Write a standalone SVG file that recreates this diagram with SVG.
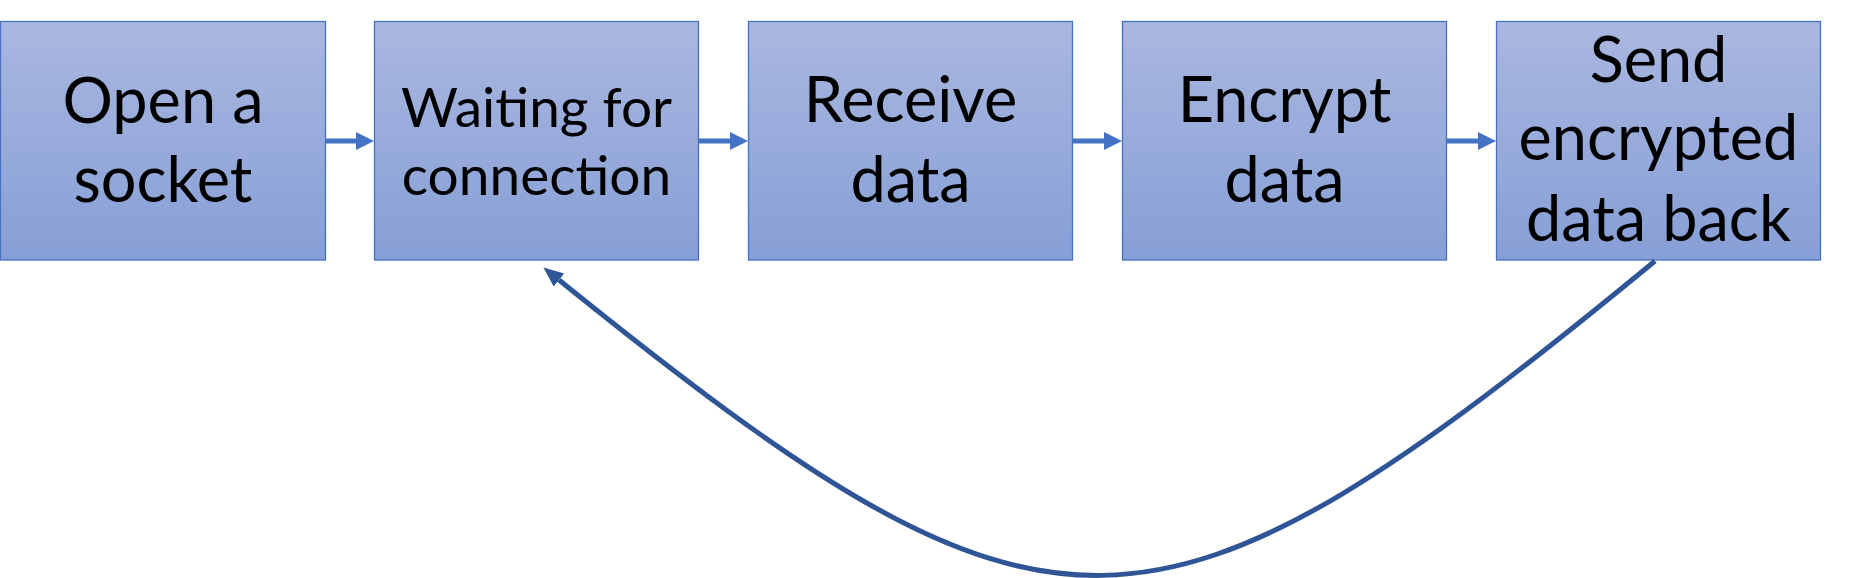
<svg xmlns="http://www.w3.org/2000/svg" width="1852" height="578" viewBox="0 0 1852 578">
<style>
.box{fill:url(#g);stroke:#4472C4;stroke-width:1.3}
.t{font-family:Lato,"Liberation Sans",sans-serif;font-size:63px;fill:#000;text-anchor:middle}
.ts{font-size:55px}
.c{fill:none;stroke:#4472C4;stroke-width:5}
.fb{fill:none;stroke:#2F5597;stroke-width:5}
</style>
<defs>
<linearGradient id="g" x1="0" y1="0" x2="0" y2="1">
<stop offset="0" stop-color="#AAB7E0"/>
<stop offset="1" stop-color="#869FD6"/>
</linearGradient>
<marker id="a" markerUnits="userSpaceOnUse" markerWidth="20" markerHeight="20" refX="0" refY="9" orient="auto">
<path d="M0,0 L18,9 L0,18 z" fill="#4472C4"/>
</marker>
<marker id="b" markerUnits="userSpaceOnUse" markerWidth="22" markerHeight="20" refX="0" refY="8.5" orient="auto">
<path d="M0,0 L20,8.5 L0,17 z" fill="#2F5597"/>
</marker>
</defs>
<g id="node1"><rect class="box" x="0.5" y="21.5" width="325" height="238.5"/>
<text class="t" x="163" y="123">Open a</text><text class="t" x="163" y="202">socket</text></g>
<g id="node2"><rect class="box" x="374.5" y="21.5" width="324" height="238.5"/>
<text class="t ts" x="536.5" y="127">Waiting for</text><text class="t ts" x="536.5" y="195">connection</text></g>
<g id="node3"><rect class="box" x="748.5" y="21.5" width="324" height="238.5"/>
<text class="t" x="910.5" y="122">Receive</text><text class="t" x="910.5" y="202">data</text></g>
<g id="node4"><rect class="box" x="1122.5" y="21.5" width="324" height="238.5"/>
<text class="t" x="1284.5" y="122">Encrypt</text><text class="t" x="1284.5" y="202">data</text></g>
<g id="node5"><rect class="box" x="1496.5" y="21.5" width="324" height="238.5"/>
<text class="t" x="1658.5" y="82">Send</text><text class="t" x="1658.5" y="160">encrypted</text><text class="t" x="1658.5" y="241">data back</text></g>
<g id="connectors">
<path class="c" d="M325.5,141 H356" marker-end="url(#a)"/>
<path class="c" d="M698.5,141 H730" marker-end="url(#a)"/>
<path class="c" d="M1072.5,141 H1104" marker-end="url(#a)"/>
<path class="c" d="M1446.5,141 H1478" marker-end="url(#a)"/>
<path class="fb" d="M1655,261 C1150,677 1051,677 559,280" marker-end="url(#b)"/>
</g>
</svg>
